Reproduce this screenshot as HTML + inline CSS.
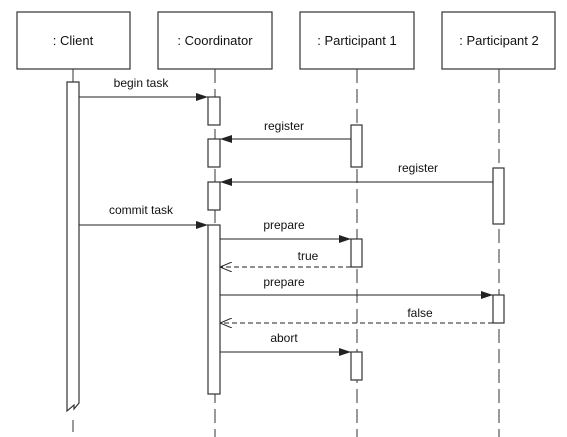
<!DOCTYPE html>
<html><head><style>body{margin:0;background:#fff}svg{display:block}text{font-family:"Liberation Sans",sans-serif;font-size:12px;fill:#111}</style></head>
<body>
<svg width="567" height="437" viewBox="0 0 567 437">
<defs>
<marker id="f" markerWidth="12" markerHeight="8" refX="12" refY="4" orient="auto" markerUnits="userSpaceOnUse"><path d="M0,0L12,4L0,8z" fill="#222"/></marker>
<marker id="o" markerWidth="12" markerHeight="10" refX="12" refY="5" orient="auto" markerUnits="userSpaceOnUse"><path d="M0,0L12,5L0,10" fill="none" stroke="#222" stroke-width="1"/></marker>
</defs>
<g stroke="#333" stroke-width="1.2" fill="#fff">
<rect x="17" y="12" width="113" height="57"/>
<rect x="158" y="12" width="114" height="57"/>
<rect x="300" y="12" width="114" height="57"/>
<rect x="442" y="12" width="113" height="57"/>
</g>
<g font-size="13">
<text x="73" y="45" text-anchor="middle" style="font-size:13px">: Client</text>
<text x="215" y="45" text-anchor="middle" style="font-size:13px">: Coordinator</text>
<text x="357" y="45" text-anchor="middle" style="font-size:13px">: Participant 1</text>
<text x="499" y="45" text-anchor="middle" style="font-size:13px">: Participant 2</text>
</g>
<g stroke="#333" stroke-width="1" fill="none">
<line x1="73" y1="69" x2="73" y2="82"/>
<line x1="73" y1="420" x2="73" y2="437" stroke-dasharray="12,6"/>
<line x1="215" y1="69" x2="215" y2="437" stroke-dasharray="14,6"/>
<line x1="357" y1="69" x2="357" y2="437" stroke-dasharray="14,6"/>
<line x1="499" y1="69" x2="499" y2="437" stroke-dasharray="14,6"/>
</g>
<g stroke="#333" stroke-width="1.2" fill="#fff">
<path d="M67,82H79V403L74,409V405L67,411Z"/>
<rect x="208" y="97" width="12" height="28"/>
<rect x="208" y="139" width="12" height="28"/>
<rect x="208" y="182" width="12" height="28"/>
<rect x="208" y="225" width="12" height="169"/>
<rect x="351" y="125" width="11" height="42"/>
<rect x="351" y="239" width="11" height="28"/>
<rect x="351" y="352" width="11" height="28"/>
<rect x="493" y="168" width="11" height="56"/>
<rect x="493" y="295" width="11" height="28"/>
</g>
<g stroke="#222" stroke-width="1" fill="none">
<line x1="79" y1="97" x2="208" y2="97" marker-end="url(#f)"/>
<line x1="351" y1="139" x2="220" y2="139" marker-end="url(#f)"/>
<line x1="493" y1="182" x2="220" y2="182" marker-end="url(#f)"/>
<line x1="79" y1="225" x2="208" y2="225" marker-end="url(#f)"/>
<line x1="220" y1="239" x2="351" y2="239" marker-end="url(#f)"/>
<line x1="351" y1="267" x2="220" y2="267" stroke-dasharray="5,3" marker-end="url(#o)"/>
<line x1="220" y1="295" x2="493" y2="295" marker-end="url(#f)"/>
<line x1="493" y1="323" x2="220" y2="323" stroke-dasharray="5,3" marker-end="url(#o)"/>
<line x1="220" y1="352" x2="351" y2="352" marker-end="url(#f)"/>
</g>
<text x="141" y="87" text-anchor="middle">begin task</text>
<text x="284" y="130" text-anchor="middle">register</text>
<text x="418" y="172" text-anchor="middle">register</text>
<text x="141" y="214" text-anchor="middle">commit task</text>
<text x="284" y="229" text-anchor="middle">prepare</text>
<text x="308" y="260" text-anchor="middle">true</text>
<text x="284" y="286" text-anchor="middle">prepare</text>
<text x="420" y="317" text-anchor="middle">false</text>
<text x="284" y="342" text-anchor="middle">abort</text>
</svg>
</body></html>
